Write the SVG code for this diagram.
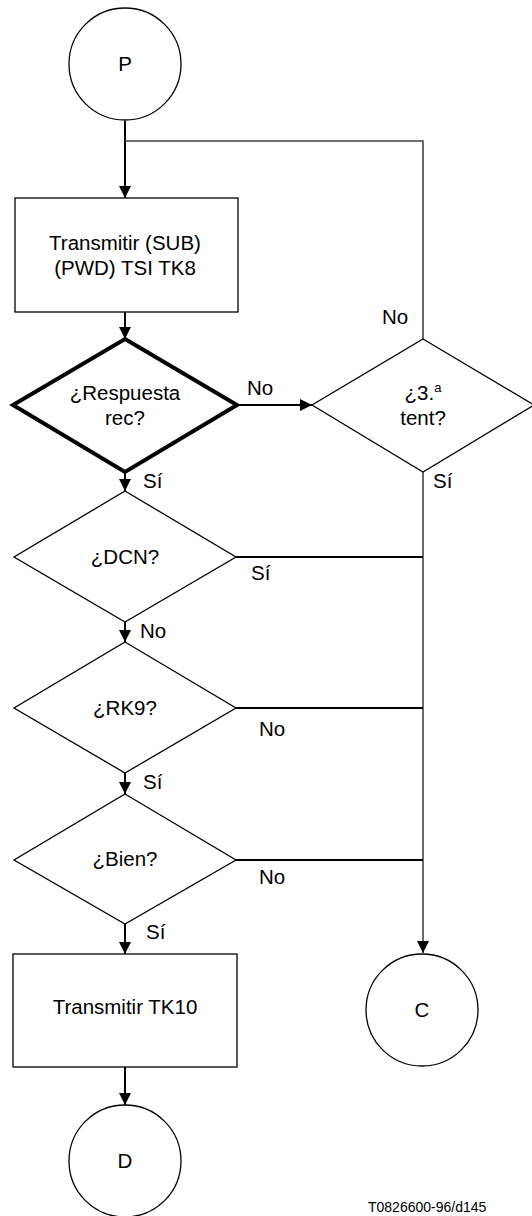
<svg xmlns="http://www.w3.org/2000/svg" width="532" height="1216" viewBox="0 0 532 1216">
<defs>
<marker id="ah" markerWidth="12" markerHeight="12" viewBox="0 0 12 12" refX="12" refY="6" orient="auto" markerUnits="userSpaceOnUse">
<path d="M0,0 L12,6 L0,12 Z" fill="#000"/>
</marker>
</defs>
<style>
text{font-family:"Liberation Sans",Arial,sans-serif;font-size:20.5px;fill:#000;text-anchor:middle}
.lbl{text-anchor:start}
.shape{fill:#fff;stroke:#000;stroke-width:1.3}
.bold{stroke-width:4}
.c{fill:none;stroke:#000;stroke-width:2}
.g{fill:none;stroke:#444;stroke-width:1.6}
.note{font-size:14px;text-anchor:start}
</style>
<rect width="532" height="1216" fill="#fff"/>
<g id="connectors">
<line class="c" x1="125" y1="121" x2="125" y2="198" marker-end="url(#ah)"/>
<polyline class="g" points="125,141 423,141 423,339"/>
<line class="c" x1="125" y1="312" x2="125" y2="339" marker-end="url(#ah)"/>
<line class="c" x1="237" y1="405" x2="312" y2="405" marker-end="url(#ah)"/>
<line class="c" x1="125" y1="472" x2="125" y2="491" marker-end="url(#ah)"/>
<line class="g" x1="423" y1="472" x2="423" y2="953" marker-end="url(#ah)"/>
<line class="c" x1="236" y1="557" x2="423" y2="557"/>
<line class="c" x1="125" y1="622" x2="125" y2="642" marker-end="url(#ah)"/>
<line class="c" x1="236" y1="708" x2="423" y2="708"/>
<line class="c" x1="125" y1="773" x2="125" y2="794" marker-end="url(#ah)"/>
<line class="c" x1="236" y1="860" x2="423" y2="860"/>
<line class="c" x1="125" y1="924" x2="125" y2="954" marker-end="url(#ah)"/>
<line class="c" x1="125" y1="1067" x2="125" y2="1105" marker-end="url(#ah)"/>
<text class="lbl" x="382" y="324">No</text>
<text class="lbl" x="247" y="395">No</text>
<text class="lbl" x="143" y="488">Sí</text>
<text class="lbl" x="433" y="488">Sí</text>
<text class="lbl" x="251" y="580">Sí</text>
<text class="lbl" x="140" y="638">No</text>
<text class="lbl" x="259" y="736">No</text>
<text class="lbl" x="143" y="789">Sí</text>
<text class="lbl" x="259" y="884">No</text>
<text class="lbl" x="146" y="939">Sí</text>
</g>
<g id="P">
<circle class="shape" cx="125" cy="64" r="56"/>
<text x="125" y="71">P</text>
</g>
<g id="box1">
<rect class="shape" x="15" y="198" width="223" height="114"/>
<text x="125" y="250">Transmitir (SUB)</text>
<text x="125" y="275">(PWD) TSI TK8</text>
</g>
<g id="resp">
<polygon class="shape bold" points="125,339 237,405 125,472 13,405"/>
<text x="125" y="400">¿Respuesta</text>
<text x="125" y="425">rec?</text>
</g>
<g id="tent">
<polygon class="shape" points="423,339 534,405 423,472 312,405"/>
<text x="423" y="400">¿3.<tspan font-size="13" dy="-8">a</tspan></text>
<text x="423" y="425">tent?</text>
</g>
<g id="dcn">
<polygon class="shape" points="125,491 236,557 125,622 14,557"/>
<text x="125" y="564">¿DCN?</text>
</g>
<g id="rk9">
<polygon class="shape" points="125,642 236,708 125,773 14,708"/>
<text x="125" y="715">¿RK9?</text>
</g>
<g id="bien">
<polygon class="shape" points="125,794 236,860 125,924 14,860"/>
<text x="125" y="866">¿Bien?</text>
</g>
<g id="box2">
<rect class="shape" x="13" y="954" width="224" height="113"/>
<text x="125" y="1014">Transmitir TK10</text>
</g>
<g id="C">
<circle class="shape" cx="422" cy="1010" r="56"/>
<text x="422" y="1017">C</text>
</g>
<g id="D">
<circle class="shape" cx="125" cy="1161" r="56"/>
<text x="125" y="1168">D</text>
</g>
<text class="note" x="368" y="1212">T0826600-96/d145</text>
</svg>
